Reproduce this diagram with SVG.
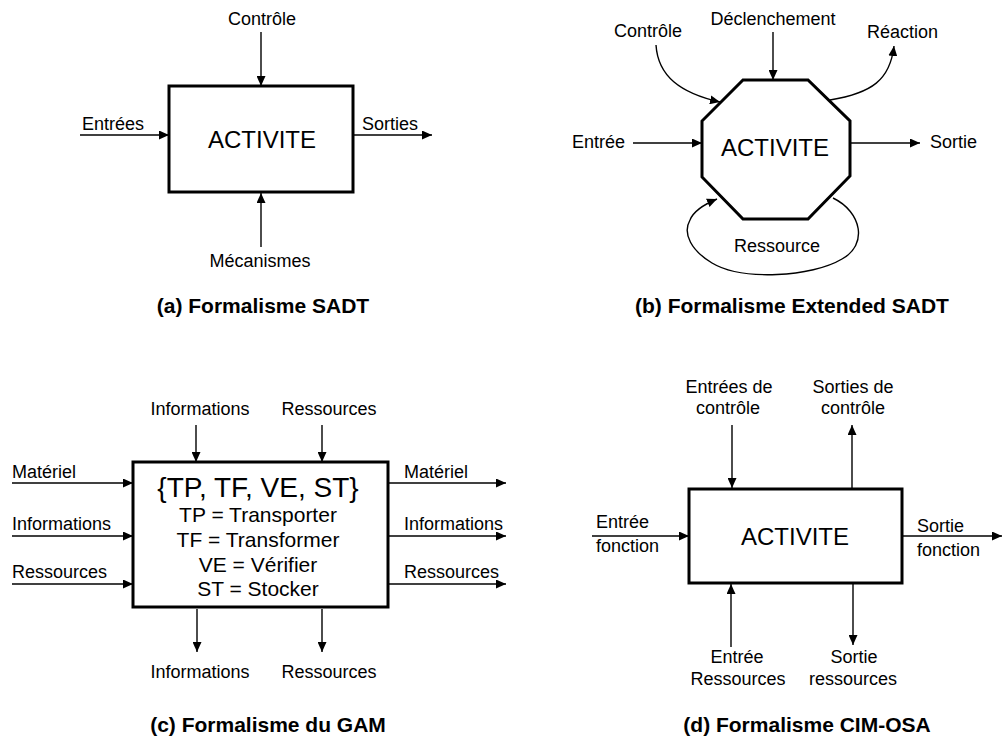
<svg xmlns="http://www.w3.org/2000/svg" width="1003" height="738" viewBox="0 0 1003 738">
<defs>
<marker id="ah" markerUnits="userSpaceOnUse" markerWidth="11" markerHeight="9" refX="10" refY="4.5" orient="auto">
<path d="M0,0 L10,4.5 L0,9 z" fill="#000"/>
</marker>
<style>
text{font-family:"Liberation Sans",Arial,sans-serif;fill:#000}
.lb{font-size:18px}
.ac{font-size:24px}
.cap{font-size:21px;font-weight:bold}
.mid{text-anchor:middle}
.box{fill:#fff;stroke:#000;stroke-width:3}
.ln{fill:none;stroke:#000;stroke-width:1.4}
.ar{fill:none;stroke:#000;stroke-width:1.4;marker-end:url(#ah)}
</style>
</defs>
<rect width="1003" height="738" fill="#fff"/>

<g id="connectors">
<!-- (a) -->
<line class="ar" x1="261" y1="32" x2="261" y2="86"/>
<line class="ar" x1="80" y1="135" x2="169" y2="135"/>
<line class="ar" x1="353" y1="135" x2="432" y2="135"/>
<line class="ar" x1="261" y1="247" x2="261" y2="193"/>
<!-- (b) -->
<line class="ar" x1="633" y1="143" x2="702" y2="143"/>
<line class="ar" x1="851" y1="143" x2="920" y2="143"/>
<line class="ar" x1="773" y1="32" x2="773" y2="80"/>
<path class="ar" d="M656,45 C658,76 680,93 720,102"/>
<path class="ar" d="M830,100 C872,93 890,80 894,46"/>
<path class="ar" d="M833,198 C862,212 868,245 842,259 C812,277 742,281 712,263 C692,251 682,234 690,220 C694,210 705,204 717,199"/>
<!-- (c) -->
<line class="ar" x1="196" y1="425" x2="196" y2="462"/>
<line class="ar" x1="322" y1="425" x2="322" y2="462"/>
<line class="ar" x1="12" y1="483" x2="133" y2="483"/>
<line class="ar" x1="12" y1="536" x2="133" y2="536"/>
<line class="ar" x1="12" y1="584" x2="133" y2="584"/>
<line class="ar" x1="388" y1="483" x2="506" y2="483"/>
<line class="ar" x1="388" y1="536" x2="506" y2="536"/>
<line class="ar" x1="388" y1="584" x2="506" y2="584"/>
<line class="ar" x1="197" y1="609" x2="197" y2="652"/>
<line class="ar" x1="322" y1="609" x2="322" y2="652"/>
<!-- (d) -->
<line class="ar" x1="732" y1="425" x2="732" y2="488"/>
<line class="ar" x1="852" y1="488" x2="852" y2="425"/>
<line class="ar" x1="592" y1="536" x2="689" y2="536"/>
<line class="ar" x1="902" y1="536" x2="1002" y2="536"/>
<line class="ar" x1="731" y1="647" x2="731" y2="584"/>
<line class="ar" x1="853" y1="584" x2="853" y2="645"/>
</g>

<g id="node-a">
<rect class="box" x="169" y="86" width="184" height="106"/>
<text class="ac mid" x="262" y="148">ACTIVITE</text>
</g>
<g id="labels-a">
<text class="lb mid" x="262" y="25">Contrôle</text>
<text class="lb" x="82" y="130">Entrées</text>
<text class="lb" x="362" y="130">Sorties</text>
<text class="lb mid" x="260" y="267">Mécanismes</text>
<text class="cap mid" x="263" y="313">(a) Formalisme SADT</text>
</g>

<g id="node-b">
<polygon class="box" points="743,80 808,80 850,121 850,176 808,219 743,219 702,177 702,121"/>
<text class="ac mid" x="775" y="156">ACTIVITE</text>
</g>
<g id="labels-b">
<text class="lb" x="572" y="148">Entrée</text>
<text class="lb" x="930" y="148">Sortie</text>
<text class="lb mid" x="773" y="25">Déclenchement</text>
<text class="lb mid" x="648" y="37">Contrôle</text>
<text class="lb" x="867" y="38">Réaction</text>
<text class="lb mid" x="777" y="252">Ressource</text>
<text class="cap mid" x="792" y="313">(b) Formalisme Extended SADT</text>
</g>

<g id="node-c">
<rect class="box" x="133" y="462" width="255" height="145"/>
<text class="mid" x="258" y="497" font-size="28">{TP, TF, VE, ST}</text>
<text class="mid" x="258" y="522" font-size="21">TP = Transporter</text>
<text class="mid" x="258" y="547" font-size="21">TF = Transformer</text>
<text class="mid" x="258" y="572" font-size="21">VE = Vérifier</text>
<text class="mid" x="258" y="596" font-size="21">ST = Stocker</text>
</g>
<g id="labels-c">
<text class="lb mid" x="200" y="415">Informations</text>
<text class="lb mid" x="329" y="415">Ressources</text>
<text class="lb" x="12" y="478">Matériel</text>
<text class="lb" x="12" y="530">Informations</text>
<text class="lb" x="12" y="578">Ressources</text>
<text class="lb" x="404" y="478">Matériel</text>
<text class="lb" x="404" y="530">Informations</text>
<text class="lb" x="404" y="578">Ressources</text>
<text class="lb mid" x="200" y="678">Informations</text>
<text class="lb mid" x="329" y="678">Ressources</text>
<text class="cap mid" x="268" y="732">(c) Formalisme du GAM</text>
</g>

<g id="node-d">
<rect class="box" x="689" y="489" width="213" height="94"/>
<text class="ac mid" x="795" y="545">ACTIVITE</text>
</g>
<g id="labels-d">
<text class="lb mid" x="729" y="393">Entrées de</text>
<text class="lb mid" x="728" y="414">contrôle</text>
<text class="lb mid" x="853" y="393">Sorties de</text>
<text class="lb mid" x="853" y="414">contrôle</text>
<text class="lb" x="596" y="528">Entrée</text>
<text class="lb" x="596" y="552">fonction</text>
<text class="lb" x="917" y="532">Sortie</text>
<text class="lb" x="917" y="556">fonction</text>
<text class="lb mid" x="737" y="663">Entrée</text>
<text class="lb mid" x="738" y="685">Ressources</text>
<text class="lb mid" x="854" y="663">Sortie</text>
<text class="lb mid" x="853" y="685">ressources</text>
<text class="cap mid" x="807" y="732">(d) Formalisme CIM-OSA</text>
</g>
</svg>
